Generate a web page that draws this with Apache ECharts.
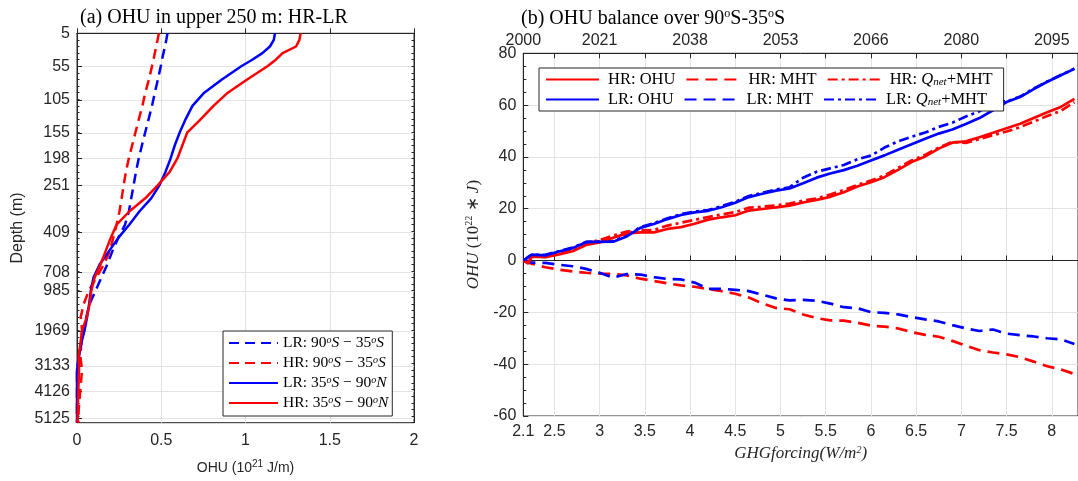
<!DOCTYPE html>
<html><head><meta charset="utf-8">
<script src="https://cdn.jsdelivr.net/npm/echarts@6/dist/echarts.min.js"></script>
<style>html,body{margin:0;padding:0;background:#fff}#c{width:1078px;height:481px}</style>
</head><body><div id="c"></div>
<script>
// ---------- Panel (a) data ----------
const depthLabels = ['5','55','105','155','198','251','409','708','985','1969','3133','4126','5125'];
const depthTickLevel = [0,5,10.1,15.1,19,23,30.2,36.2,39.05,45.1,50.4,54.3,58.35];
const profileLevel = [0,1,2,3,4,5,7,9,11,13,15,17,19,21,23,25,27,29,31,33,35,37,39,41,43,45,47,49,51,54,57,59];
const lrSouth = [0.537,0.53,0.522,0.513,0.504,0.497,0.48,0.462,0.445,0.425,0.405,0.385,0.366,0.35,0.336,0.322,0.308,0.285,0.245,0.21,0.18,0.145,0.11,0.075,0.055,0.04,0.025,0.01,0,0,0,0];
const hrSouth = [0.486,0.478,0.47,0.462,0.454,0.445,0.427,0.405,0.388,0.367,0.347,0.327,0.307,0.29,0.277,0.265,0.252,0.235,0.215,0.195,0.16,0.115,0.07,0.04,0.022,0.03,0.025,0.02,0.03,0.02,0.01,0.008];
const lrNorth = [1.175,1.168,1.145,1.10,1.04,0.975,0.86,0.755,0.685,0.645,0.61,0.58,0.555,0.525,0.49,0.44,0.37,0.31,0.245,0.19,0.135,0.098,0.082,0.072,0.06,0.045,0.025,0.012,0,0,0,0];
const hrNorth = [1.327,1.32,1.30,1.22,1.18,1.13,1.01,0.895,0.81,0.735,0.655,0.625,0.595,0.55,0.48,0.405,0.31,0.235,0.20,0.17,0.14,0.105,0.085,0.075,0.058,0.03,0.02,0.01,0.012,0.008,0.005,0.003];

// ---------- Panel (b) data ----------
const forcing = [2.16,2.21,2.25,2.4,2.55,2.7,2.85,3.0,3.15,3.3,3.45,3.6,3.75,3.9,4.05,4.2,4.35,4.5,4.65,4.8,4.95,5.1,5.25,5.4,5.55,5.7,5.85,6.0,6.15,6.3,6.45,6.6,6.75,6.9,7.05,7.2,7.35,7.5,7.65,7.8,7.95,8.1,8.25];
const hrOHU = [0,-1.2,1.5,1.3,2.4,3.6,6.0,7.0,8.8,10.5,10.9,10.9,12.2,12.9,14.2,15.8,16.7,17.5,19.3,19.9,20.5,21.2,22.4,23.4,24.6,26.4,28.6,30.2,32.2,35.0,38.0,40.2,43.2,45.5,46.0,47.6,49.3,51.1,52.8,55.0,57.2,59.3,62.4];
const hrMHT = [0,-0.7,-1.2,-2.6,-3.5,-4.2,-4.7,-5.1,-5.1,-5.7,-7.0,-7.9,-8.8,-9.6,-10.1,-11.0,-11.8,-12.8,-14.3,-16.5,-18.3,-18.8,-20.8,-22.2,-23.1,-23.2,-24.0,-25.1,-25.5,-26.2,-27.6,-28.7,-29.4,-31.0,-32.8,-34.6,-35.5,-36.2,-37.3,-39.0,-40.8,-42.0,-43.8];
const hrQnet = [0,-0.8,1.6,1.4,3.0,4.3,6.8,7.9,9.6,11.2,11.6,11.8,13.5,14.6,15.7,16.8,17.8,18.7,20.4,20.8,21.3,22.0,23.1,24.0,25.5,27.2,29.2,30.9,32.8,35.8,38.6,40.8,43.6,45.8,45.4,46.9,48.4,49.8,51.5,53.6,55.8,57.8,61.1];
const lrOHU = [0,1.4,2.3,2.0,3.5,4.8,7.1,7.2,7.3,9.3,12.6,14.1,16.0,17.6,18.6,19.2,20.6,22.3,24.5,25.8,27.0,27.8,29.8,32.0,33.6,34.9,36.6,38.6,40.6,42.8,44.9,47.0,49.0,50.6,52.7,55.0,58.0,61.2,63.1,66.2,69.0,71.5,74.0];
const lrMHT = [0,-0.5,-0.8,-0.9,-1.6,-2.2,-3.2,-4.7,-6.6,-5.2,-5.4,-6.4,-7.1,-7.3,-8.5,-10.9,-10.9,-11.3,-11.8,-13.2,-14.6,-15.4,-15.2,-15.5,-16.6,-18.0,-18.4,-19.9,-20.2,-20.8,-21.8,-22.7,-23.5,-24.9,-26.2,-27.2,-26.6,-28.2,-28.8,-29.3,-30.0,-30.4,-32.2];
const lrQnet = [0,1.3,2.2,2.2,3.6,5.0,7.2,7.4,7.6,9.6,12.9,14.4,16.3,17.9,18.9,19.5,21.0,22.7,24.9,26.2,27.4,28.3,32.0,34.3,35.6,36.9,39.1,40.5,43.6,46.0,47.8,49.4,51.6,53.2,55.6,57.6,61.8,61.4,63.3,66.4,69.1,71.6,74.1];
const forcingTicks = [2.156,2.5,3,3.5,4,4.5,5,5.5,6,6.5,7,7.5,8];
const forcingLabels = ['2.1','2.5','3','3.5','4','4.5','5','5.5','6','6.5','7','7.5','8'];
const yearTickForcing = [2.156,3,4,5,6,7,8];
const yearLabels = ['2000','2021','2038','2053','2066','2080','2095'];

const SANS = 'Liberation Sans';
const SERIF = 'Liberation Serif';
const AX = '#262626';
const GRIDC = '#e3e3e3';
const RED = '#ff0000', BLUE = '#0000ff';

function pick(vals, labels, v) {
  let best = 0, d = Infinity;
  vals.forEach((x, i) => { const dd = Math.abs(x - v); if (dd < d) { d = dd; best = i; } });
  return labels[best];
}

const profileSeries = (name, vals, color, type) => ({
  name, type: 'line', xAxisIndex: 0, yAxisIndex: 0, symbol: 'none',
  data: profileLevel.map((l, i) => [vals[i], l]),
  lineStyle: { color, width: 2.5, type: type === 'dashed' ? [10, 6] : 'solid' },
  itemStyle: { color }
});
const balSeries = (name, vals, color, type) => ({
  name, type: 'line', xAxisIndex: 2, yAxisIndex: 3, symbol: 'none',
  data: forcing.map((f, i) => [f, vals[i]]),
  lineStyle: { color, width: 2.7, type: type === 'dashed' ? [12, 7] : (type === 'dashdot' ? [10, 4, 3, 4] : 'solid') },
  itemStyle: { color }
});

const legA = {
  lrS: 'LR: 90{sup|o}{i|S} − 35{sup|o}{i|S}',
  hrS: 'HR: 90{sup|o}{i|S} − 35{sup|o}{i|S}',
  lrN: 'LR: 35{sup|o}{i|S} − 90{sup|o}{i|N}',
  hrN: 'HR: 35{sup|o}{i|S} − 90{sup|o}{i|N}'
};
const legB = {
  hrO: 'HR: OHU', hrM: 'HR: MHT', hrQ: 'HR: {i|Q}{sub|net}+MHT',
  lrO: 'LR: OHU', lrM: 'LR: MHT', lrQ: 'LR: {i|Q}{sub|net}+MHT'
};

const chart = echarts.init(document.getElementById('c'), null, { renderer: 'canvas' });
chart.setOption({
  animation: false,
  backgroundColor: '#fff',
  title: [
    { text: '(a) OHU in upper 250 m: HR-LR', left: 75, top: 3,
      textStyle: { fontFamily: SERIF, fontSize: 20, fontWeight: 'normal', color: '#000' } },
    { text: '(b) OHU balance over 90{s|o}S-35{s|o}S', left: 516, top: 3,
      textStyle: { fontFamily: SERIF, fontSize: 20, fontWeight: 'normal', color: '#000', lineHeight: 22,
        rich: { s: { fontFamily: SERIF, fontSize: 12, verticalAlign: 'top', lineHeight: 22, color: '#000' } } } }
  ],
  grid: [
    { left: 77, top: 33.3, width: 337, height: 389.4, show: true, borderColor: AX, borderWidth: 1, backgroundColor: 'transparent' },
    { left: 523.3, top: 53.3, width: 557.7, height: 362.7, show: true, borderColor: AX, borderWidth: 1, backgroundColor: 'transparent' }
  ],
  xAxis: [
    { type: 'value', gridIndex: 0, min: 0, max: 2, interval: 0.5,
      name: 'OHU (10{sup|21} J/m)', nameLocation: 'middle', nameGap: 37,
      nameTextStyle: { fontFamily: SANS, fontSize: 14, color: AX, lineHeight: 16,
        rich: { sup: { fontFamily: SANS, fontSize: 10, verticalAlign: 'top', lineHeight: 16, color: AX } } },
      axisLine: { lineStyle: { color: AX } },
      axisTick: { inside: true, length: 5, lineStyle: { color: AX } },
      axisLabel: { fontFamily: SANS, fontSize: 16, color: AX, margin: 10 },
      splitLine: { show: true, lineStyle: { color: GRIDC } } },
    { type: 'value', gridIndex: 0, position: 'top', min: 0, max: 2, interval: 0.5,
      axisLine: { show: true, lineStyle: { color: AX } }, axisTick: { show: false },
      axisLabel: { show: false }, splitLine: { show: false } },
    { type: 'value', gridIndex: 1, min: 2.156, max: 8.29,
      name: 'GHGforcing(W/m{sup|2})', nameLocation: 'middle', nameGap: 25,
      nameTextStyle: { fontFamily: SERIF, fontStyle: 'italic', fontSize: 17, color: AX, lineHeight: 18,
        rich: { sup: { fontFamily: SERIF, fontSize: 10, verticalAlign: 'top', lineHeight: 18, color: AX } } },
      axisLine: { lineStyle: { color: AX } },
      axisTick: { inside: true, length: 5, customValues: forcingTicks, lineStyle: { color: AX } },
      axisLabel: { fontFamily: SANS, fontSize: 16, color: AX, margin: 8, customValues: forcingTicks,
        formatter: v => pick(forcingTicks, forcingLabels, v) },
      splitLine: { show: true, lineStyle: { color: GRIDC } } },
    { type: 'value', gridIndex: 1, position: 'top', min: 2.156, max: 8.29,
      axisLine: { show: true, lineStyle: { color: AX } },
      axisTick: { inside: true, length: 5, customValues: forcingTicks.slice(1), lineStyle: { color: AX } },
      axisLabel: { fontFamily: SANS, fontSize: 16, color: AX, margin: 5, customValues: yearTickForcing,
        formatter: v => pick(yearTickForcing, yearLabels, v) },
      splitLine: { show: false } }
  ],
  yAxis: [
    { type: 'value', gridIndex: 0, min: 0, max: 59, inverse: true,
      name: 'Depth (m)', nameLocation: 'middle', nameGap: 51,
      nameTextStyle: { fontFamily: SANS, fontSize: 16, color: AX },
      axisLine: { show: true, lineStyle: { color: AX } },
      axisTick: { inside: true, length: 5, customValues: depthTickLevel, lineStyle: { color: AX } },
      axisLabel: { fontFamily: SANS, fontSize: 16, color: AX, margin: 7, customValues: depthTickLevel,
        formatter: v => pick(depthTickLevel, depthLabels, v) },
      splitLine: { show: true, lineStyle: { color: GRIDC } } },
    { type: 'value', gridIndex: 0, min: 0, max: 59, inverse: true, interval: 1, position: 'left',
      axisLine: { show: false }, axisTick: { inside: true, length: 2.5, lineStyle: { color: AX } },
      axisLabel: { show: false }, splitLine: { show: false } },
    { type: 'value', gridIndex: 0, min: 0, max: 59, inverse: true, interval: 1, position: 'right',
      axisLine: { show: true, lineStyle: { color: AX } }, axisTick: { inside: true, length: 2.5, lineStyle: { color: AX } },
      axisLabel: { show: false }, splitLine: { show: false } },
    { type: 'value', gridIndex: 1, min: -60, max: 80, interval: 20,
      name: '{i|OHU} (10{sup|22} {n|∗} {i|J})', nameLocation: 'middle', nameGap: 36,
      nameTextStyle: { fontFamily: SERIF, fontSize: 17, color: AX, lineHeight: 18,
        rich: { i: { fontFamily: SERIF, fontStyle: 'italic', fontSize: 17, color: AX, lineHeight: 18 },
                n: { fontFamily: SERIF, fontSize: 17, color: AX, lineHeight: 18 },
                sup: { fontFamily: SERIF, fontSize: 10, verticalAlign: 'top', lineHeight: 18, color: AX } } },
      axisLine: { show: true, lineStyle: { color: AX } },
      axisTick: { inside: true, length: 5, lineStyle: { color: AX } },
      minorTick: { show: true, splitNumber: 4, length: 3, lineStyle: { color: AX } },
      axisLabel: { fontFamily: SANS, fontSize: 16, color: AX, margin: 7 },
      splitLine: { show: true, lineStyle: { color: GRIDC } } }
  ],
  legend: [
    { left: 223, top: 331, orient: 'vertical', padding: [4, 4, 5, 5], itemGap: 4,
      itemWidth: 49, itemHeight: 14, backgroundColor: '#fff', borderColor: AX, borderWidth: 1,
      itemStyle: { opacity: 0 },
      data: ['lrS', 'hrS', 'lrN', 'hrN'],
      formatter: n => legA[n],
      textStyle: { fontFamily: SERIF, fontSize: 15.5, color: '#000', lineHeight: 15, padding: [0, 0, 0, 0],
        rich: { i: { fontFamily: SERIF, fontStyle: 'italic', fontSize: 15.5, color: '#000', lineHeight: 15 },
                sup: { fontFamily: SERIF, fontStyle: 'italic', fontSize: 10, verticalAlign: 'top', lineHeight: 15, color: '#000' } } } },
    { left: 539, top: 68, orient: 'horizontal', width: 480, padding: [3, 4, 3, 6], itemGap: 3,
      itemWidth: 53, itemHeight: 16, backgroundColor: '#fff', borderColor: AX, borderWidth: 1,
      itemStyle: { opacity: 0 },
      data: ['hrO', 'hrM', 'hrQ', 'lrO', 'lrM', 'lrQ'],
      formatter: n => legB[n],
      textStyle: { fontFamily: SERIF, fontSize: 16.5, color: '#000', lineHeight: 16, padding: [0, 7, 0, 4],
        rich: { i: { fontFamily: SERIF, fontStyle: 'italic', fontSize: 16.5, color: '#000', lineHeight: 16 },
                sub: { fontFamily: SERIF, fontStyle: 'italic', fontSize: 11, verticalAlign: 'bottom', lineHeight: 16, color: '#000' } } } }
  ],
  series: [
    profileSeries('lrS', lrSouth, BLUE, 'dashed'),
    profileSeries('hrS', hrSouth, RED, 'dashed'),
    profileSeries('lrN', lrNorth, BLUE, 'solid'),
    profileSeries('hrN', hrNorth, RED, 'solid'),
    balSeries('hrM', hrMHT, RED, 'dashed'),
    balSeries('lrM', lrMHT, BLUE, 'dashed'),
    balSeries('hrQ', hrQnet, RED, 'dashdot'),
    balSeries('lrQ', lrQnet, BLUE, 'dashdot'),
    balSeries('hrO', hrOHU, RED, 'solid'),
    balSeries('lrO', lrOHU, BLUE, 'solid')
  ]
});
</script></body></html>
